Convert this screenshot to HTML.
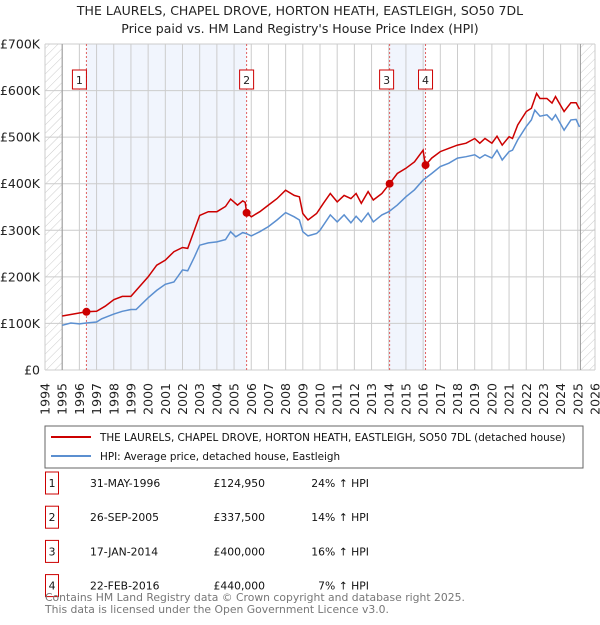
<!DOCTYPE html>
<html><head><meta charset="utf-8"><style>
body{margin:0;background:#fff;font-family:"Liberation Sans","DejaVu Sans",sans-serif;}
svg text{font-family:"DejaVu Sans","Liberation Sans",sans-serif;}
</style></head><body>
<svg id="c" width="600" height="620" viewBox="0 0 600 620" xmlns="http://www.w3.org/2000/svg">
<defs><pattern id="hatch" width="6" height="6" patternUnits="userSpaceOnUse" patternTransform="rotate(45)"><line x1="0" y1="0" x2="0" y2="6" stroke="#ccc" stroke-width="1"/></pattern></defs>
<text x="300" y="15" text-anchor="middle" font-size="12.5" fill="#222">THE LAURELS, CHAPEL DROVE, HORTON HEATH, EASTLEIGH, SO50 7DL</text>
<text x="300" y="33" text-anchor="middle" font-size="12.5" fill="#222">Price paid vs. HM Land Registry's House Price Index (HPI)</text>
<g id="plot"></g>
<rect x="45" y="426" width="538" height="42" fill="none" stroke="#666"/>
<line x1="51" y1="437" x2="91" y2="437" stroke="#cc0000" stroke-width="2"/>
<text x="100" y="441" font-size="10.4" fill="#111">THE LAURELS, CHAPEL DROVE, HORTON HEATH, EASTLEIGH, SO50 7DL (detached house)</text>
<line x1="51" y1="456" x2="91" y2="456" stroke="#5b8fd0" stroke-width="2"/>
<text x="100" y="460" font-size="10.4" fill="#111">HPI: Average price, detached house, Eastleigh</text>
<g id="table"></g>
<text x="45" y="601" font-size="10.8" fill="#777">Contains HM Land Registry data © Crown copyright and database right 2025.</text>
<text x="45" y="613" font-size="10.8" fill="#777">This data is licensed under the Open Government Licence v3.0.</text>
</svg>
<script>
const hpiYears=[1995,1995.5,1996,1996.4,1997,1997.3,1998,1998.5,1999,1999.3,2000,2000.5,2001,2001.5,2002,2002.3,2002.7,2003,2003.5,2004,2004.5,2004.8,2005.1,2005.5,2005.7,2006,2006.5,2007,2007.5,2008,2008.5,2008.8,2009,2009.3,2009.8,2010,2010.6,2011,2011.4,2011.8,2012.1,2012.4,2012.8,2013.1,2013.6,2014,2014.5,2015,2015.5,2016,2016.5,2017,2017.5,2018,2018.5,2019,2019.3,2019.6,2020,2020.3,2020.6,2021,2021.2,2021.5,2022,2022.3,2022.5,2022.8,2023.2,2023.5,2023.7,2024.2,2024.6,2024.9,2025.1];
const hpiValues=[96,101,99,101,103,110,120,126,130,130,155,171,184,189,215,213,243,268,273,275,280,297,286,295,293,288,297,308,322,338,329,322,297,288,293,300,333,318,333,316,330,318,337,318,333,340,354,372,387,408,422,437,444,455,458,462,455,462,455,472,451,469,472,494,523,537,558,545,548,537,548,515,537,538,522];
const redYears=[1995,1996.4,1997,1997.5,1998,1998.5,1999,2000,2000.5,2001,2001.5,2002,2002.3,2002.7,2003,2003.5,2004,2004.5,2004.8,2005.2,2005.5,2005.65,2005.73,2006,2006.5,2007,2007.5,2008,2008.5,2008.8,2009,2009.3,2009.8,2010.2,2010.6,2011,2011.4,2011.8,2012.1,2012.4,2012.8,2013.1,2013.6,2014.05,2014.5,2015,2015.5,2016,2016.1,2016.15,2016.5,2017,2017.5,2018,2018.5,2019,2019.3,2019.6,2020,2020.3,2020.6,2021,2021.2,2021.5,2022,2022.3,2022.6,2022.8,2023.2,2023.5,2023.7,2024.2,2024.6,2024.9,2025.1];
const redValues=[116,124.95,126,137,151,158,158,200,225,236,254,263,261,301,332,340,340,351,367,354,363,360,337.5,329,340,354,368,386,375,372,336,322,336,358,379,361,375,368,379,358,383,365,379,400,422,433,447,472,447,440,455,469,476,483,487,497,487,497,487,502,483,501,497,526,555,562,594,583,583,573,587,555,574,574,560];
const saleLabels=["1","2","3","4"];
const saleYears=[1996.41,2005.73,2014.05,2016.14];
const salePrices=[124.95,337.5,400,440];
const saleDates=["31-MAY-1996","26-SEP-2005","17-JAN-2014","22-FEB-2016"];
const salePriceText=["£124,950","£337,500","£400,000","£440,000"];
const saleHpiText=["24% ↑ HPI","14% ↑ HPI","16% ↑ HPI","7% ↑ HPI"];
const yTicks=[0,100,200,300,400,500,600,700];
const yTickLabels=["£0","£100K","£200K","£300K","£400K","£500K","£600K","£700K"];
const xTicks=[1994,1995,1996,1997,1998,1999,2000,2001,2002,2003,2004,2005,2006,2007,2008,2009,2010,2011,2012,2013,2014,2015,2016,2017,2018,2019,2020,2021,2022,2023,2024,2025,2026];

const X0=45,X1=595,Y0=370,Y1=44;
const xs=y=>X0+(y-1994)/32*(X1-X0);
const ys=v=>Y0-v/700*(Y0-Y1);
const NS="http://www.w3.org/2000/svg";
const plot=document.getElementById('plot');
function mk(tag,attrs,parent){const e=document.createElementNS(NS,tag);for(const k in attrs)e.setAttribute(k,attrs[k]);(parent||plot).appendChild(e);return e;}
for(const [a,b] of [[0,1],[2,3]]){
  const r=mk('rect',{x:xs(saleYears[a]),y:Y1,width:xs(saleYears[b])-xs(saleYears[a]),height:Y0-Y1,fill:'#eef3fc',opacity:0.8});
  
  
}
let h=mk('rect',{x:X0,y:Y1,width:xs(1995)-X0,height:Y0-Y1,fill:'url(#hatch)'});


h=mk('rect',{x:xs(2025.15),y:Y1,width:X1-xs(2025.15),height:Y0-Y1,fill:'url(#hatch)'});


xTicks.forEach(t=>{
  const l=mk('line',{x1:xs(t),x2:xs(t),y1:Y1,y2:Y0,stroke:'#ccc','stroke-width':1});
  
  
  const tx=mk('text',{transform:`translate(${xs(t)+4.5},383) rotate(-90)`,'text-anchor':'end','font-size':12.5,fill:'#222'});
  tx.textContent=t;
  
  
});
yTicks.forEach((t,i)=>{
  const l=mk('line',{x1:X0,x2:X1,y1:ys(t),y2:ys(t),stroke:'#ccc','stroke-width':1});
  
  
  const tx=mk('text',{x:40,y:ys(t)+4.5,'text-anchor':'end','font-size':12.5,fill:'#222'});
  tx.textContent=yTickLabels[i];
  
  
});
let bl=mk('line',{x1:xs(1995),x2:xs(1995),y1:Y1,y2:Y0,stroke:'#999'});


bl=mk('line',{x1:xs(2025.15),x2:xs(2025.15),y1:Y1,y2:Y0,stroke:'#999'});


saleYears.forEach((y,i)=>{
  const l=mk('line',{x1:xs(y),x2:xs(y),y1:Y1,y2:Y0,stroke:'#e06060','stroke-dasharray':'2,2'});
  
  
  const off=(i==0)?-7:(i==2?-3:0);
  const r=mk('rect',{x:xs(y)-7+off,y:70,width:14,height:19,fill:'#fff',stroke:'#c00'});
  
  
  const t=mk('text',{x:xs(y)+off,y:84,'text-anchor':'middle','font-size':11,fill:'#222'});
  t.textContent=saleLabels[i];
  
  
});
const pts=(a,b)=>a.map((y,i)=>xs(y).toFixed(1)+','+ys(b[i]).toFixed(1)).join(' ');
let p=mk('polyline',{points:pts(hpiYears,hpiValues),fill:'none',stroke:'#5b8fd0','stroke-width':1.5});


p=mk('polyline',{points:pts(redYears,redValues),fill:'none',stroke:'#cc0000','stroke-width':1.5});


saleYears.forEach((y,i)=>{
  const c=mk('circle',{cx:xs(y),cy:ys(salePrices[i]),r:4,fill:'#cc0000'});
  
  
});
const tb=document.getElementById('table');
saleLabels.forEach((s,i)=>{
  const y=483+i*34.2;
  const r=mk('rect',{x:45.5,y:y-11,width:13,height:22,fill:'none',stroke:'#c00'},tb);
  
  
  const cells=[[52,s,'middle'],[90,saleDates[i],'start'],[265,salePriceText[i],'end'],[369,saleHpiText[i],'end']];
  cells.forEach(([x,txt,anc])=>{
    const t=mk('text',{x:x,y:y+4,'font-size':10.8,fill:'#111','text-anchor':anc},tb);
    t.textContent=txt;
    
    
  });
});
</script>
</body></html>
